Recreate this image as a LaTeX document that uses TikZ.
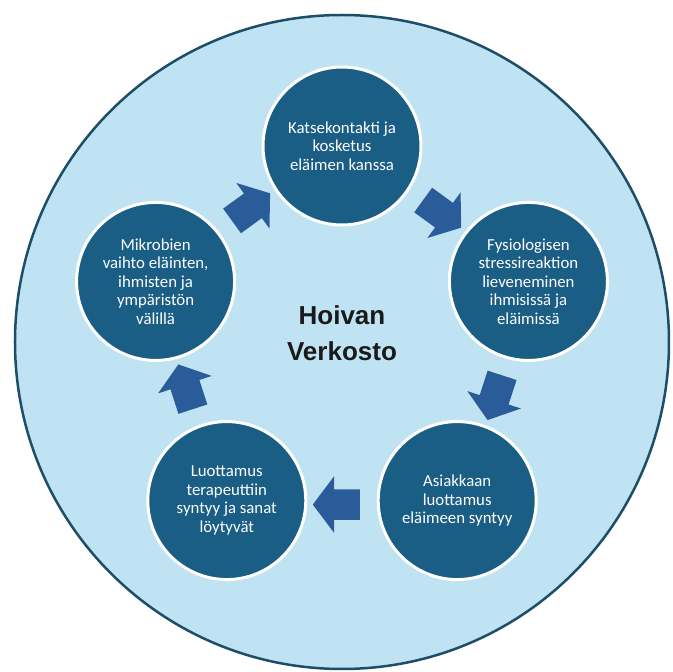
\documentclass[tikz,border=0pt]{standalone}
\usepackage{fontspec}
\setmainfont{Carlito}
\newfontfamily\titlefont{Liberation Sans}
\usetikzlibrary{shapes.arrows}

\definecolor{ringfill}{HTML}{BFE3F3}
\definecolor{ringline}{HTML}{1D4E68}
\definecolor{stagefill}{HTML}{1A5D85}
\definecolor{flowfill}{HTML}{2A5C9A}
\definecolor{titletext}{HTML}{1A1A1A}

\begin{document}
\begin{tikzpicture}[x=1pt,y=1pt,
  stage/.style={circle, fill=stagefill, draw=white, line width=3pt,
    minimum size=158pt, inner sep=0pt, align=center, text=white,
    font=\fontsize{16.8}{18.5}\selectfont},
  flow/.style={single arrow, fill=flowfill, draw=none,
    inner xsep=0pt, inner ysep=15pt,
    minimum height=47pt, minimum width=56pt,
    single arrow head extend=13pt, single arrow tip angle=106,
    sloped, allow upside down, yshift=4pt}]

\useasboundingbox (-342,-330) rectangle (331,342);
\draw[ringline, fill=ringfill, line width=2.5pt] (0,0) circle (327);

%Stages
\node[stage] (contact) at (90:196) {Katsekontakti ja\\kosketus\\eläimen kanssa};
\node[stage] (stress) at (18:196) {Fysiologisen\\stressireaktion\\lieveneminen\\ihmisissä ja\\eläimissä};
\node[stage] (trust) at (-54:196) {Asiakkaan\\luottamus\\eläimeen syntyy};
\node[stage] (words) at (-126:196) {Luottamus\\terapeuttiin\\syntyy ja sanat\\löytyvät};
\node[stage] (microbes) at (162:196) {Mikrobien\\vaihto eläinten,\\ihmisten ja\\ympäristön\\välillä};

\node[font={\titlefont\bfseries\fontsize{26}{36}\selectfont}, text=titletext, align=center] (title) at (0,9) {Hoivan\\Verkosto};

%Arrows
\path (microbes) -- node[flow] (flowa) {} (contact);
\path (contact) -- node[flow] (flowb) {} (stress);
\path (stress) -- node[flow] (flowc) {} (trust);
\path (trust) -- node[flow] (flowd) {} (words);
\path (words) -- node[flow] (flowe) {} (microbes);

\end{tikzpicture}
\end{document}
